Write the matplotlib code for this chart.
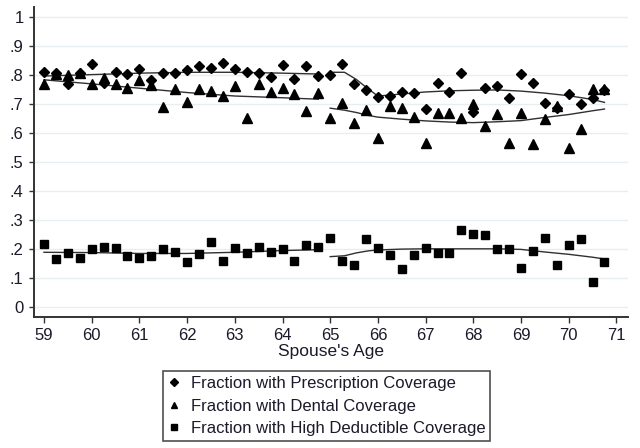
import numpy as np
import matplotlib
matplotlib.use('Agg')
import matplotlib.pyplot as plt

plt.rcParams['font.family'] = ['Liberation Sans', 'DejaVu Sans']

# spouse's age, quarterly bins
ages = [59.0, 59.25, 59.5, 59.75, 60.0, 60.25, 60.5, 60.75,
        61.0, 61.25, 61.5, 61.75, 62.0, 62.25, 62.5, 62.75,
        63.0, 63.25, 63.5, 63.75, 64.0, 64.25, 64.5, 64.75,
        65.0, 65.25, 65.5, 65.75, 66.0, 66.25, 66.5, 66.75,
        67.0, 67.25, 67.5, 67.75, 68.0, 68.25, 68.5, 68.75,
        69.0, 69.25, 69.5, 69.75, 70.0, 70.25, 70.5, 70.75]

presc = [0.812, 0.806, 0.768, 0.806, 0.837, 0.772, 0.810, 0.804,
         0.821, 0.784, 0.808, 0.808, 0.818, 0.832, 0.826, 0.841,
         0.821, 0.812, 0.808, 0.793, 0.835, 0.787, 0.832, 0.797,
         0.801, 0.837, 0.768, 0.749, 0.724, 0.729, 0.741, 0.740,
         0.682, 0.774, 0.743, 0.809, 0.674, 0.755, 0.763, 0.720,
         0.803, 0.774, 0.705, 0.686, 0.734, 0.699, 0.720, 0.748]

dental = [0.768, 0.803, 0.800, 0.806, 0.768, 0.790, 0.768, 0.756,
          0.784, 0.765, 0.689, 0.751, 0.708, 0.751, 0.746, 0.728,
          0.763, 0.651, 0.768, 0.743, 0.755, 0.734, 0.676, 0.737,
          0.653, 0.705, 0.636, 0.680, 0.584, 0.694, 0.686, 0.657,
          0.565, 0.670, 0.670, 0.651, 0.702, 0.624, 0.666, 0.567,
          0.670, 0.561, 0.648, 0.694, 0.549, 0.613, 0.752, 0.752]

high_ded = [0.217, 0.164, 0.184, 0.169, 0.198, 0.207, 0.202, 0.175,
            0.169, 0.175, 0.198, 0.188, 0.156, 0.181, 0.222, 0.159,
            0.202, 0.184, 0.205, 0.188, 0.198, 0.159, 0.213, 0.207,
            0.236, 0.159, 0.144, 0.233, 0.204, 0.179, 0.129, 0.179,
            0.202, 0.187, 0.184, 0.265, 0.251, 0.247, 0.198, 0.198,
            0.135, 0.194, 0.236, 0.144, 0.213, 0.233, 0.086, 0.154]

# smoothed fits (before / after 65)
fit_age_left = [59.0, 60.0, 61.0, 62.0, 63.0, 64.0, 64.75]
presc_fit_left = [0.797, 0.802, 0.807, 0.810, 0.810, 0.807, 0.804]
dental_fit_left = [0.784, 0.770, 0.755, 0.740, 0.728, 0.722, 0.717]
hd_fit_left = [0.188, 0.187, 0.184, 0.184, 0.188, 0.194, 0.197]

fit_age_right = [65.0, 65.3, 65.55, 65.8, 66.0, 66.5, 67.0, 67.5, 68.0,
                 68.5, 69.0, 69.5, 70.0, 70.5, 70.75]
presc_fit_right = [0.810, 0.810, 0.785, 0.752, 0.728, 0.735, 0.742, 0.746, 0.748,
                   0.749, 0.745, 0.738, 0.729, 0.716, 0.706]
dental_fit_right = [0.686, 0.679, 0.671, 0.661, 0.655, 0.648, 0.642, 0.638, 0.636,
                    0.639, 0.643, 0.654, 0.664, 0.677, 0.683]
hd_fit_right = [0.173, 0.176, 0.186, 0.193, 0.196, 0.199, 0.200, 0.200, 0.200,
                0.200, 0.198, 0.189, 0.181, 0.171, 0.165]

y_ticks = [0, .1, .2, .3, .4, .5, .6, .7, .8, .9, 1]
y_tick_labels = ['0', '.1', '.2', '.3', '.4', '.5', '.6', '.7', '.8', '.9', '1']
x_ticks = list(range(59, 72))

fig = plt.figure(figsize=(6.4, 4.48), dpi=100)
ax = fig.add_axes([34/640, 1-317/448, (628-34)/640, (317-7)/448])

for y in y_ticks:
  ax.axhline(y, color='#e6eef1', lw=1.0, zorder=0)

ax.plot(ages, presc, 'D', color='black', ms=5.0, ls='none',
        label='Fraction with Prescription Coverage', zorder=3)
ax.plot(ages, dental, '^', color='black', ms=6.5, ls='none',
        label='Fraction with Dental Coverage', zorder=3)
ax.plot(ages, high_ded, 's', color='black', ms=6.2, ls='none',
        label='Fraction with High Deductible Coverage', zorder=3)

fit_col = '#303030'
for fx, fy in [(fit_age_left, presc_fit_left), (fit_age_left, dental_fit_left),
               (fit_age_left, hd_fit_left), (fit_age_right, presc_fit_right),
               (fit_age_right, dental_fit_right), (fit_age_right, hd_fit_right)]:
  ax.plot(fx, fy, color=fit_col, lw=1.0, zorder=2)

ax.set_xlim(59 + (34-44)/47.7, 59 + (628-44)/47.7)
ax.set_ylim(-(317-306.7)/289.4, (306.7-7)/289.4)

ax.set_yticks(y_ticks)
ax.set_yticklabels(y_tick_labels)
ax.set_xticks(x_ticks)

for s in ['top', 'right']:
  ax.spines[s].set_visible(False)
for s in ['left', 'bottom']:
  ax.spines[s].set_color('#333333')
  ax.spines[s].set_linewidth(1.4)

ax.tick_params(axis='y', direction='out', length=3.5, width=1.0, pad=4,
               labelsize=12, colors='#333333', labelcolor='#1a1a2a')
ax.tick_params(axis='x', direction='out', length=4.5, width=1.0, pad=3.5,
               labelsize=12, colors='#333333', labelcolor='#1a1a2a')

ax.set_xlabel("Spouse's Age", fontsize=12.5, color='#1a1a2a', labelpad=0.5)

leg = fig.legend(loc='upper center', bbox_to_anchor=(326.5/640, 1-371/448),
                 ncol=1, frameon=True, fancybox=False, fontsize=12,
                 markerscale=0.75, handlelength=0.8, handletextpad=0.6,
                 borderpad=0.3, labelspacing=0.45, borderaxespad=0)
leg.get_frame().set_edgecolor('#222222')
leg.get_frame().set_linewidth(1.2)
for t in leg.get_texts():
  t.set_color('#1a1a2a')

fig.savefig('out.png', dpi=100, facecolor='white')
